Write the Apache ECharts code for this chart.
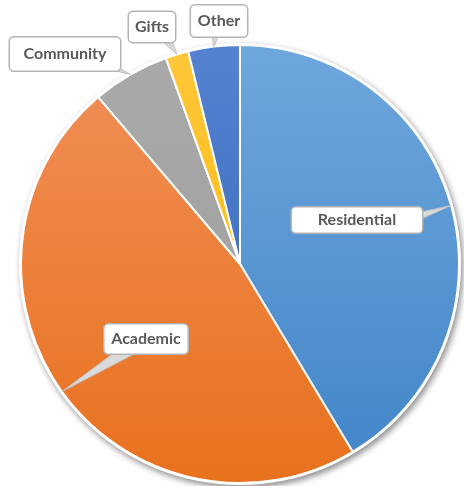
<!DOCTYPE html>
<html>
<head>
<meta charset="utf-8">
<script src="https://cdn.jsdelivr.net/npm/echarts@6/dist/echarts.min.js"></script>
<style>html,body{margin:0;padding:0;background:#fff}#c{width:464px;height:486px}</style>
</head>
<body>
<div id="c"></div>
<script>
const categories = ['Residential', 'Academic', 'Community', 'Gifts', 'Other'];
const values = [41.4, 47.4, 5.7, 1.7, 3.8];

const colors = [
  ['#6fa7dd', '#4487c9'],
  ['#f08c52', '#e8711d'],
  ['#a9a9a9', '#a3a3a3'],
  ['#ffc63a', '#fdbf1a'],
  ['#5583d2', '#4472c4']
];
// label boxes: center position, box width, vertical padding, wedge base points (relative to label center)
const labelBoxes = [
  { x: 357, y: 220, w: 130, pv: 4, base: [[64, -8], [64, -1]] },
  { x: 146, y: 339, w: 83, pv: 6, base: [[-31, 13], [-8, 13]] },
  { x: 65, y: 54, w: 110, pv: 8, base: [[44, 15], [56, 15]] },
  { x: 152, y: 27, w: 46, pv: 6.5, base: [[10, 14], [20, 14]] },
  { x: 219, y: 21, w: 56, pv: 7, base: [[-7, 14], [0, 14]] }
];

const chart = echarts.init(document.getElementById('c'), null, { renderer: 'canvas' });
const data = categories.map((name, i) => ({
  name: name,
  value: values[i],
  itemStyle: {
    color: new echarts.graphic.LinearGradient(0, 0, 0, 1, [
      { offset: 0, color: colors[i][0] },
      { offset: 1, color: colors[i][1] }
    ])
  },
  label: { padding: [labelBoxes[i].pv, 0], width: labelBoxes[i].w }
}));

chart.setOption({
  animation: false,
  series: [
    {
      type: 'pie',
      silent: true,
      center: [240, 264],
      radius: 221,
      z: 1,
      label: { show: false },
      labelLine: { show: false },
      itemStyle: {
        color: '#ffffff',
        shadowBlur: 6,
        shadowOffsetX: 2,
        shadowOffsetY: 3,
        shadowColor: 'rgba(0,0,0,0.45)'
      },
      data: [1]
    },
    {
      type: 'pie',
      z: 2,
      center: [240, 264],
      radius: 219,
      startAngle: 90,
      clockwise: true,
      avoidLabelOverlap: false,
      itemStyle: { borderColor: '#ffffff', borderWidth: 2 },
      label: {
        show: true,
        position: 'outside',
        overflow: 'none',
        align: 'center',
        fontFamily: 'Lato',
        fontWeight: 'bold',
        fontSize: 16,
        lineHeight: 17,
        color: '#595959',
        backgroundColor: '#ffffff',
        borderColor: '#b4b4b4',
        borderWidth: 1.5,
        borderRadius: 4
      },
      labelLine: {
        show: true,
        showAbove: true,
        length: 10,
        length2: 10,
        lineStyle: { color: '#c0c0c0', width: 1 }
      },
      labelLayout: function (params) {
        const b = labelBoxes[params.dataIndex];
        const p0 = params.labelLinePoints ? params.labelLinePoints[0] : [b.x, b.y];
        return {
          x: b.x,
          y: b.y,
          align: 'center',
          verticalAlign: 'middle',
          labelLinePoints: [
            p0,
            [b.x + b.base[0][0], b.y + b.base[0][1]],
            [b.x + b.base[1][0], b.y + b.base[1][1]],
            p0
          ]
        };
      },
      data: data
    }
  ]
});

// lift callout pointers above the sectors and fill them like callout wedges
chart.getZr().storage.getDisplayList(true).forEach(function (el) {
  if (el.type === 'polyline') {
    el.z2 = 3;
    el.setStyle({ fill: '#dadada' });
    el.markRedraw();
  }
});
chart.getZr().refreshImmediately();
</script>
</body>
</html>
